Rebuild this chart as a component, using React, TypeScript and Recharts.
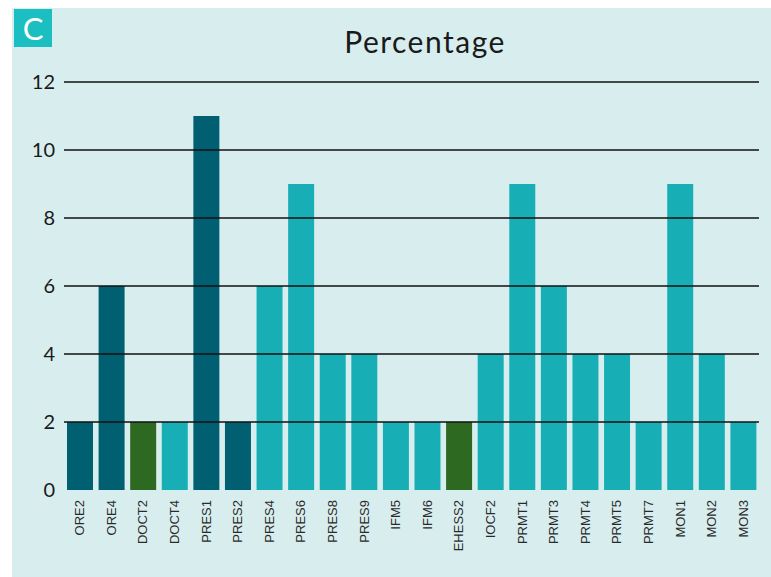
import React from "react";
import { BarChart, Bar, XAxis, YAxis, Cell, ReferenceLine } from "recharts";

const categories = [
  "ORE2", "ORE4", "DOCT2", "DOCT4", "PRES1", "PRES2", "PRES4", "PRES6",
  "PRES8", "PRES9", "IFM5", "IFM6", "EHESS2", "IOCF2", "PRMT1", "PRMT3",
  "PRMT4", "PRMT5", "PRMT7", "MON1", "MON2", "MON3",
];
const percentages = [2, 6, 2, 2, 11, 2, 6, 9, 4, 4, 2, 2, 2, 4, 9, 6, 4, 4, 2, 9, 4, 2];
const groups = [
  "ore", "ore", "doct", "pres", "ore", "ore", "pres", "pres",
  "pres", "pres", "pres", "pres", "doct", "pres", "pres", "pres",
  "pres", "pres", "pres", "pres", "pres", "pres",
];
const yTicks = [0, 2, 4, 6, 8, 10, 12];

const GROUP_COLORS: Record<string, string> = {
  ore: "#005f70",
  doct: "#2d6921",
  pres: "#17afb5",
};

const data = categories.map((name, i) => ({
  name,
  value: percentages[i],
  group: groups[i],
}));

const RotatedTick = (props: any) => {
  const { x, y, payload } = props;
  return (
    <text
      x={x}
      y={y}
      transform={`rotate(-90, ${x}, ${y})`}
      textAnchor="end"
      dominantBaseline="central"
      fontFamily="Liberation Sans, Arial, sans-serif"
      fontSize={13}
      fill="#2a2a2a"
    >
      {payload.value}
    </text>
  );
};

const App: React.FC = () => {
  return (
    <div
      style={{
        position: "fixed",
        left: 12,
        top: 8,
        width: 759,
        height: 569,
        background: "#d8eeee",
      }}
    >
      <div
        style={{
          position: "absolute",
          left: 2,
          top: 1,
          width: 38,
          height: 38,
          background: "#1bbec1",
          color: "#ffffff",
          fontFamily: "Lato, sans-serif",
          fontSize: 31,
          lineHeight: "38px",
          textAlign: "center",
        }}
      >
        C
      </div>
      <svg
        width={759}
        height={60}
        style={{ position: "absolute", left: 0, top: 0, pointerEvents: "none" }}
      >
        <text
          x={413}
          y={45}
          textAnchor="middle"
          fontFamily="Lato, sans-serif"
          fontSize={30}
          letterSpacing={1.5}
          fill="#1a1a1a"
        >
          Percentage
        </text>
      </svg>
      <BarChart
        width={759}
        height={569}
        data={data}
        margin={{ top: 74, right: 12, bottom: 0, left: 0 }}
      >
        <XAxis
          dataKey="name"
          interval={0}
          axisLine={false}
          tickLine={false}
          height={87}
          tick={<RotatedTick />}
          tickMargin={4}
        />
        <YAxis
          domain={[0, 12]}
          ticks={yTicks}
          width={52}
          axisLine={false}
          tickLine={false}
          tickMargin={3}
          tick={{ fontFamily: "Lato, sans-serif", fontSize: 20, fill: "#1a1a1a" }}
        />
        <Bar dataKey="value" barSize={26} isAnimationActive={false}>
          {data.map((d, i) => (
            <Cell key={`cell-${i}`} fill={GROUP_COLORS[d.group]} />
          ))}
        </Bar>
        {yTicks
          .filter((t) => t > 0)
          .map((t) => (
            <ReferenceLine key={t} y={t} stroke="#111111" strokeWidth={1.3} />
          ))}
      </BarChart>
    </div>
  );
};

export default App;
